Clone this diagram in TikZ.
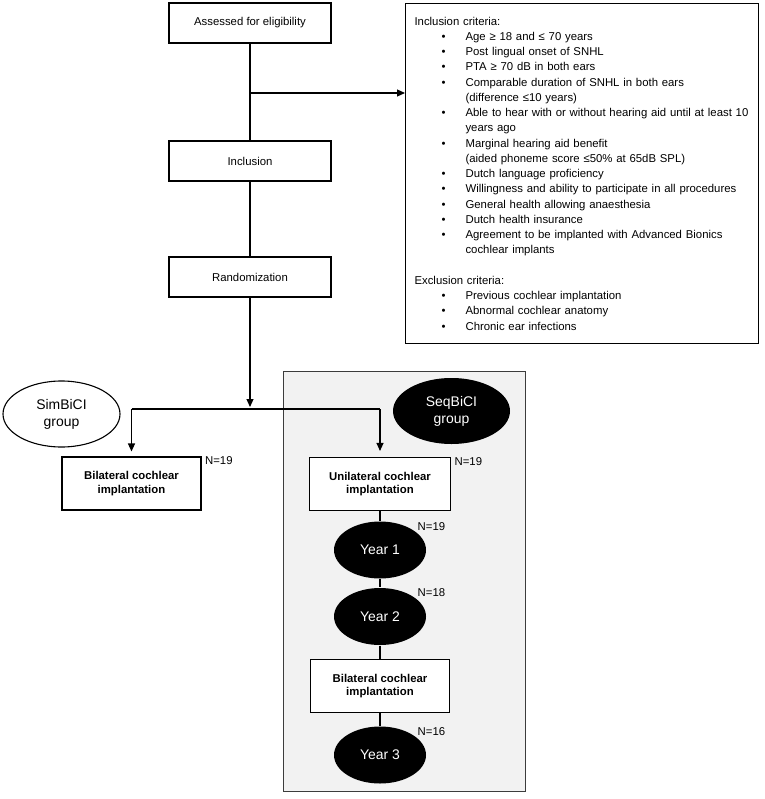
\documentclass[tikz,border=0pt]{standalone}
\usepackage{fontspec}
\setmainfont{Liberation Sans}
\usepackage{tikz}
\usetikzlibrary{shapes.geometric,arrows.meta,positioning}
\definecolor{panelgray}{RGB}{242, 242, 242}
\definecolor{panelline}{RGB}{60, 60, 60}
\newcommand{\critem}[1]{\hspace*{27bp}\makebox[24bp][l]{\textbullet}#1}
\newcommand{\critcont}[1]{\hspace*{51bp}#1}

\begin{document}
\begin{tikzpicture}[x=1bp, y=-1bp, line width=1.1bp,
    box/.style={draw, fill=white, minimum width=162bp, minimum height=40bp,
      inner sep=2bp, font=\fontsize{11.4}{13}\selectfont},
    armbox/.style={draw, fill=white, minimum width=139bp, minimum height=53bp,
      align=center, font=\fontsize{11.4}{13.5}\selectfont\bfseries},
    yearnode/.style={ellipse, fill=black, text=white, minimum width=92bp,
      minimum height=57bp, inner sep=0pt, font=\fontsize{14}{16}\selectfont},
    groupnode/.style={ellipse, minimum width=117bp, minimum height=66bp,
      inner sep=0pt, align=center, font=\fontsize{14}{17}\selectfont},
    nlab/.style={font=\fontsize{11.4}{13}\selectfont, inner sep=0pt},
    arr/.style={-{Triangle[length=8bp,width=7bp]}}]

\useasboundingbox (0,0) rectangle (765,799);

%% -- grey panel behind the sequential arm ------------------------------------
\node[draw=panelline, fill=panelgray, line width=0.8bp, anchor=north west,
      minimum width=242bp, minimum height=420bp, inner sep=0pt]
  (seqpanel) at (283,371) {};

%% -- screening column -------------------------------------------------------
\node[box] (assess) at (250,23) {Assessed for eligibility};
\node[box] (incl)   at (250,161) {Inclusion};
\node[box] (rand)   at (250,277) {Randomization};

% criteria box on the right
\node[draw, anchor=north west, minimum width=353bp, minimum height=340bp,
      text width=335bp, inner xsep=9bp, align=left,
      font=\fontsize{11.4}{15.3}\selectfont] (crit) at (405,3)
  {Inclusion criteria:\\
   \critem{Age ≥ 18 and ≤ 70 years}\\
   \critem{Post lingual onset of SNHL}\\
   \critem{PTA ≥ 70 dB in both ears}\\
   \critem{Comparable duration of SNHL in both ears}\\
   \critcont{(difference ≤10 years)}\\
   \critem{Able to hear with or without hearing aid until at least 10}\\
   \critcont{years ago}\\
   \critem{Marginal hearing aid benefit}\\
   \critcont{(aided phoneme score ≤50\% at 65dB SPL)}\\
   \critem{Dutch language proficiency}\\
   \critem{Willingness and ability to participate in all procedures}\\
   \critem{General health allowing anaesthesia}\\
   \critem{Dutch health insurance}\\
   \critem{Agreement to be implanted with Advanced Bionics}\\
   \critcont{cochlear implants}\\[15.3bp]
   Exclusion criteria:\\
   \critem{Previous cochlear implantation}\\
   \critem{Abnormal cochlear anatomy}\\
   \critem{Chronic ear infections}};

%% -- the two arms -----------------------------------------------------------
\node[groupnode, draw, fill=white] (simgrp) at (61.5,414) {SimBiCI\\group};
\node[groupnode, fill=black, text=white] (seqgrp) at (451.5,411) {SeqBiCI\\group};

\node[armbox] (simbil) at (131.5,483.5) {Bilateral cochlear\\implantation};

\node[armbox, minimum width=141bp] (uni) at (380,484) {Unilateral cochlear\\implantation};
\node[yearnode] (yr1) at (380,550) {Year 1};
\node[yearnode] (yr2) at (380,616.5) {Year 2};
\node[armbox] (seqbil) at (380,686) {Bilateral cochlear\\implantation};
\node[yearnode] (yr3) at (380,755) {Year 3};

% sample sizes
\node[nlab, anchor=north west] (nsim) at ([xshift=3bp]simbil.north east) {N=19};
\node[nlab, anchor=north west] (nuni) at ([xshift=3bp]uni.north east) {N=19};
\node[nlab, anchor=base west] (nyr1) at ([xshift=3bp]yr1.30) {N=19};
\node[nlab, anchor=base west] (nyr2) at ([xshift=3bp]yr2.30) {N=18};
\node[nlab, anchor=base west] (nyr3) at ([xshift=3bp]yr3.30) {N=16};

%% -- connectors -------------------------------------------------------------
\coordinate (crbranch) at (250,93);
\coordinate (split)    at (250,409);
\coordinate (splitL)   at (131.5,409);
\coordinate (splitR)   at (380,409);

\draw (assess) -- (incl);
\draw[arr] (crbranch) -- (crbranch -| crit.west);
\draw (incl) -- (rand);
\draw[arr, shorten >=2bp] (rand) -- (split);
\draw (splitL) -- (splitR);
\draw[arr, shorten >=5bp] (splitL) -- (simbil);
\draw[arr, shorten >=6bp] (splitR) -- (uni);

\draw (uni) -- (yr1);
\draw (yr1) -- (yr2);
\draw (yr2) -- (seqbil);
\draw (seqbil) -- (yr3);

\end{tikzpicture}
\end{document}
